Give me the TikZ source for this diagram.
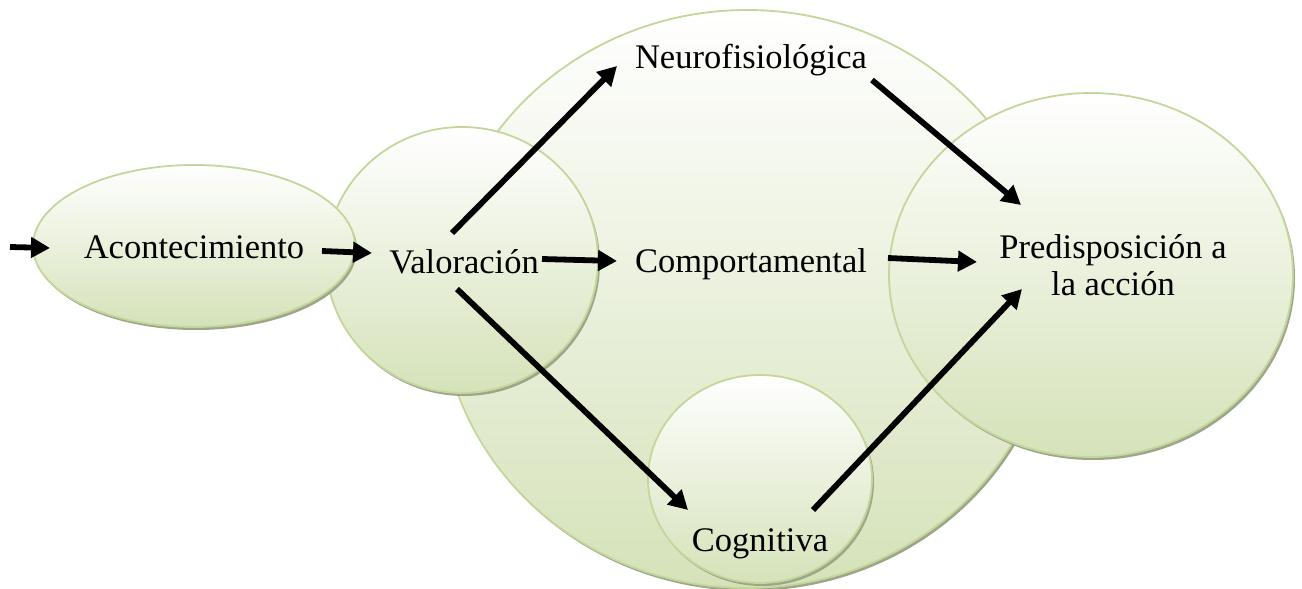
\documentclass[tikz,border=0pt]{standalone}
\usepackage{fontspec}
\setmainfont{Liberation Serif}
\usetikzlibrary{shapes.geometric,arrows.meta,calc}
\definecolor{edgegreen}{RGB}{195,214,155}
\definecolor{fillgreen}{RGB}{213,226,185}
\definecolor{shadowc}{RGB}{158,166,138}
\tikzset{
  blob/.style={ellipse, draw=edgegreen, line width=1.8pt, top color=white, bottom color=fillgreen, inner sep=0pt, outer sep=0pt},
  blobshadow/.style={ellipse, fill=shadowc, draw=none, inner sep=0pt, outer sep=0pt},
  lbl/.style={font=\fontsize{34.5}{37}\selectfont, inner sep=0pt, anchor=base, text=black},
  arr/.style={line width=5.8pt, black, -{Triangle[length=19pt,width=20pt]}},
}
\begin{document}
\begin{tikzpicture}[x=1pt,y=-1pt]
\useasboundingbox (0,0) rectangle (1302,589);
% big ellipse
\node[blobshadow, minimum width=612pt, minimum height=578pt] at (749,302) {};
\node[blob, minimum width=612pt, minimum height=578pt] (bigE) at (747,299) {};
% valoracion circle
\node[blobshadow, minimum width=272pt, minimum height=266pt] at (464,263) {};
\node[blob, minimum width=272pt, minimum height=266pt] (valE) at (462,260) {};
% acontecimiento ellipse
\node[blobshadow, minimum width=322pt, minimum height=162pt] at (196,249) {};
\node[blob, minimum width=322pt, minimum height=162pt] (aconE) at (194,246) {};
% predisposicion circle
\node[blobshadow, minimum width=404pt, minimum height=364pt] at (1093,278) {};
\node[blob, minimum width=404pt, minimum height=364pt] (predE) at (1091,275) {};
% cognitiva circle
\node[blobshadow, minimum width=224pt, minimum height=208pt] at (762,482) {};
\node[blob, minimum width=224pt, minimum height=208pt] (cogE) at (760,479) {};
% labels
\node[lbl] (acon) at (194,258) {Acontecimiento};
\node[lbl] (val) at (464,273) {Valoración};
\node[lbl] (neuro) at (751,68) {Neurofisiológica};
\node[lbl] (comp) at (751,272) {Comportamental};
\node[lbl] (cog) at (760,551) {Cognitiva};
\node[lbl, align=center] (pred) at (1113,295) {Predisposición a\\la acción};
\coordinate (src) at (10,247);
% arrows
\draw[arr] (src) -- ($(acon.base)+(-144,-10)$);
\draw[arr] ($(acon.base)+(128,-7)$) -- ($(val.base)+(-92,-20)$);
\draw[arr] ($(val.base)+(78,-14)$) -- ($(comp.base)+(-134,-11)$);
\draw[arr] ($(val.base)+(-12,-40)$) -- ($(neuro.base)+(-134,-2)$);
\draw[arr] ($(val.base)+(-7,16)$) -- ($(cog.base)+(-72,-41)$);
\draw[arr] ($(neuro.base)+(121,12)$) -- ($(pred.base)+(-92,-90)$);
\draw[arr] ($(comp.base)+(137,-14)$) -- ($(pred.base)+(-136,-33)$);
\draw[arr] ($(cog.base)+(53,-41)$) -- ($(pred.base)+(-91,-6)$);
\end{tikzpicture}
\end{document}
